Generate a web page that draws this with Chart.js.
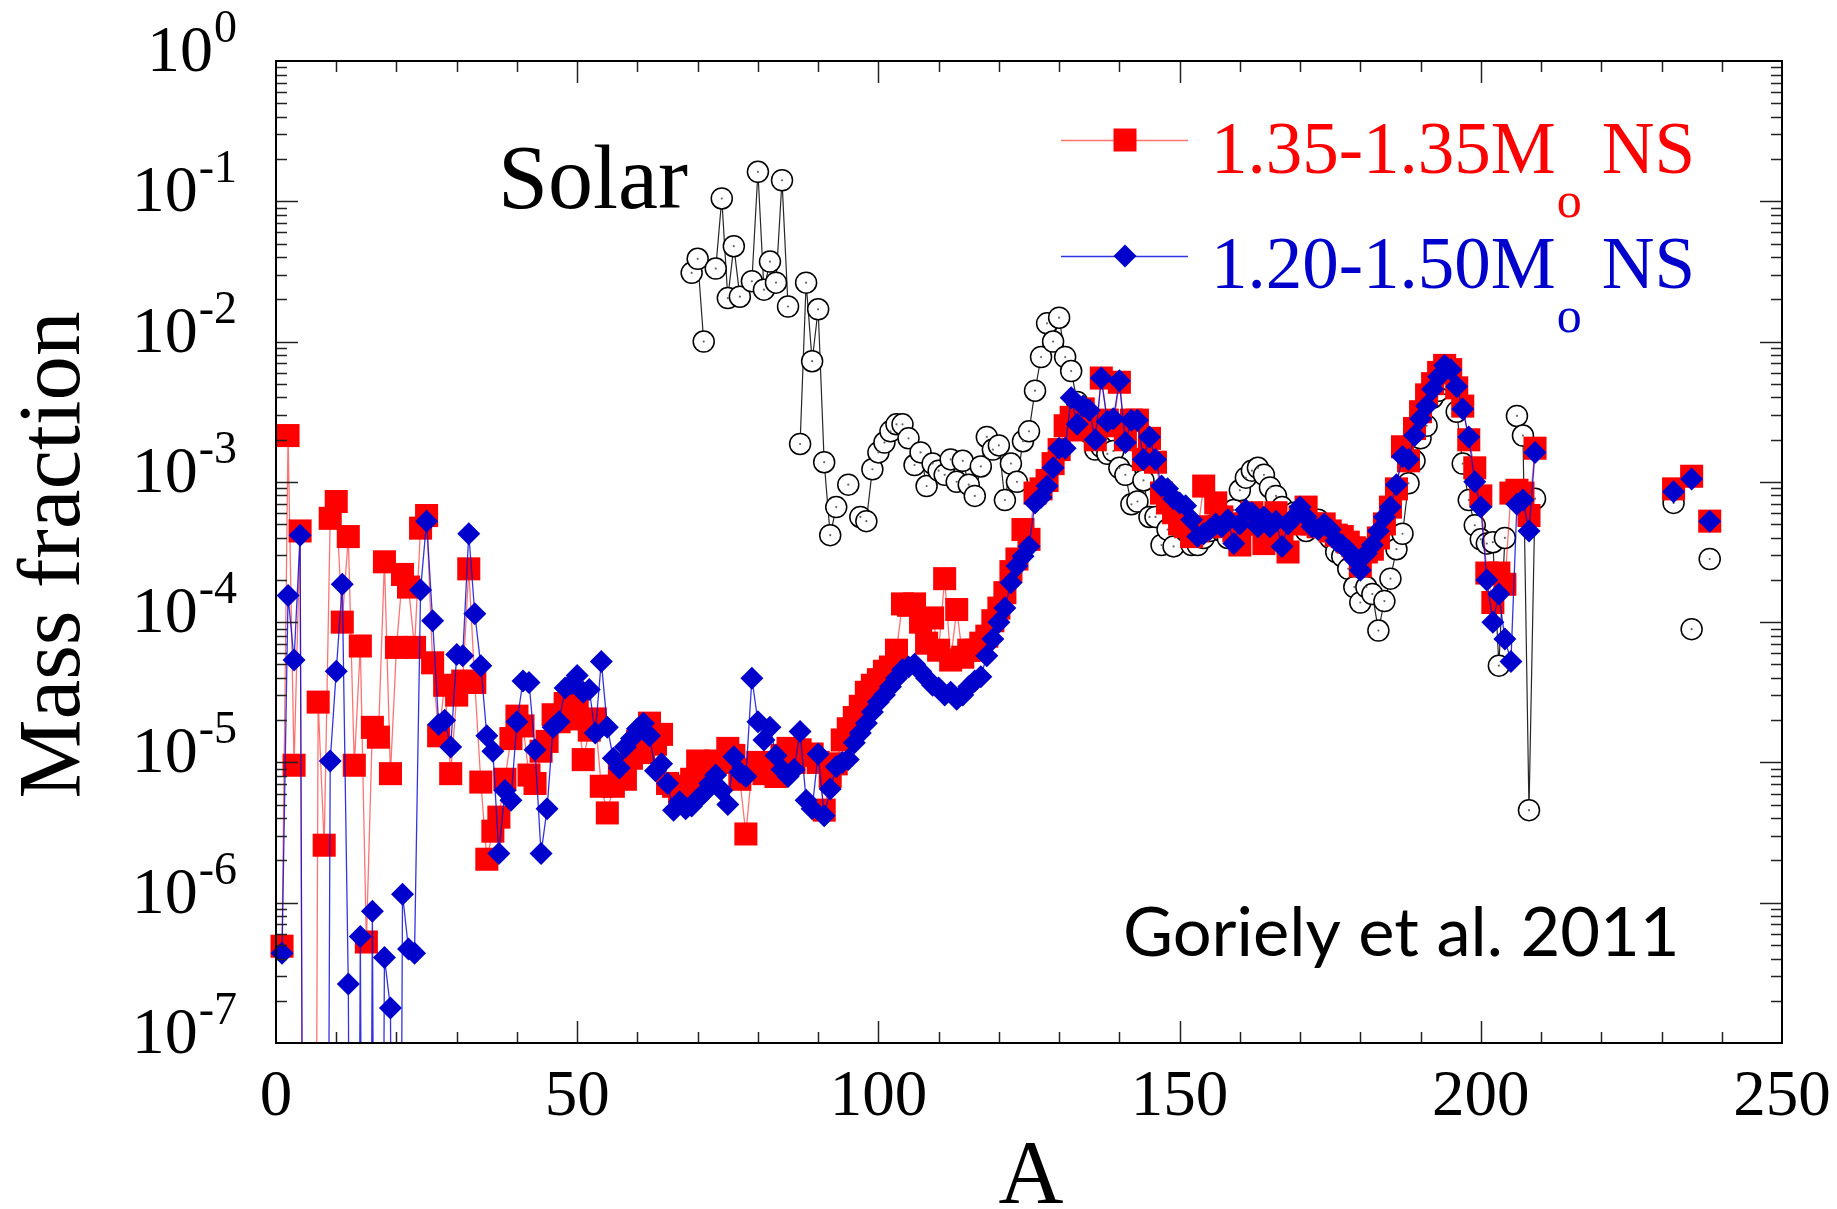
<!DOCTYPE html>
<html>
<head>
<meta charset="utf-8">
<script src="https://cdn.jsdelivr.net/npm/chart.js@4.4.1/dist/chart.umd.min.js"></script>
<style>
  html, body { margin: 0; padding: 0; background: #fff; }
  canvas { display: block; }
</style>
</head>
<body>
<canvas id="abundanceChart" width="1837" height="1209"></canvas>
<script>
// mass numbers A of the two merger runs
const nsMass = [
  1, 2, 3, 4, 5, 6, 7, 8, 9, 10, 11, 12, 13, 14, 15, 16, 17, 18, 19, 20,
  21, 22, 23, 24, 25, 26, 27, 28, 29, 30, 31, 32, 33, 34, 35, 36, 37, 38, 39, 40,
  41, 42, 43, 44, 45, 46, 47, 48, 49, 50, 51, 52, 53, 54, 55, 56, 57, 58, 59, 60,
  61, 62, 63, 64, 65, 66, 67, 68, 69, 70, 71, 72, 73, 74, 75, 76, 77, 78, 79, 80,
  81, 82, 83, 84, 85, 86, 87, 88, 89, 90, 91, 92, 93, 94, 95, 96, 97, 98, 99, 100,
  101, 102, 103, 104, 105, 106, 107, 108, 109, 110, 111, 112, 113, 114, 115, 116, 117, 118, 119, 120,
  121, 122, 123, 124, 125, 126, 127, 128, 129, 130, 131, 132, 133, 134, 135, 136, 137, 138, 139, 140,
  141, 142, 143, 144, 145, 146, 147, 148, 149, 150, 151, 152, 153, 154, 155, 156, 157, 158, 159, 160,
  161, 162, 163, 164, 165, 166, 167, 168, 169, 170, 171, 172, 173, 174, 175, 176, 177, 178, 179, 180,
  181, 182, 183, 184, 185, 186, 187, 188, 189, 190, 191, 192, 193, 194, 195, 196, 197, 198, 199, 200,
  201, 202, 203, 204, 205, 206, 207, 208, 209, 232, 235, 238
];

// log10 of the mass fraction, 1.35-1.35 Mo NS (red squares); -15 = far below the axis
const ns135Log = [
  -6.31, -2.67, -5.02, -3.35, -15, -15, -4.57, -5.59, -3.26, -3.14,
  -4.00, -3.39, -5.02, -4.17, -6.28, -4.75, -4.82, -3.57, -5.08, -4.18,
  -3.66, -3.75, -4.18, -3.33, -3.24, -4.29, -4.81, -4.45, -5.08, -4.52,
  -4.42, -3.62, -4.43, -5.14, -5.69, -5.49, -5.39, -5.12, -4.83, -4.67,
  -4.74, -5.09, -5.15, -4.92, -4.85, -4.66, -4.71, -4.58, -4.69, -4.61,
  -4.98, -4.77, -4.69, -5.17, -5.36, -5.17, -5.09, -5.12, -4.97, -4.85,
  -4.93, -4.72, -4.87, -4.80, -5.15, -5.17, -5.25, -5.22, -5.12, -4.99,
  -5.04, -5.06, -4.99, -5.00, -4.90, -4.95, -5.12, -5.51, -5.05, -5.00,
  -5.08, -5.05, -5.10, -4.95, -4.90, -5.00, -4.91, -4.95, -4.94, -5.00,
  -5.34, -5.10, -5.01, -4.84, -4.76, -4.68, -4.60, -4.50, -4.45, -4.41,
  -4.35, -4.32, -4.20, -3.87, -3.88, -3.87, -4.00, -4.15, -3.97, -4.20,
  -3.69, -4.27, -3.91, -4.25, -4.20, -4.20, -4.15, -4.10, -3.99, -3.90,
  -3.79, -3.64, -3.55, -3.34, -3.41, -3.08, -3.05, -2.99, -2.87, -2.77,
  -2.60, -2.54, -2.63, -2.48, -2.60, -2.70, -2.26, -2.56, -2.60, -2.29,
  -2.70, -2.56, -2.56, -2.84, -2.69, -2.86, -3.08, -3.15, -3.22, -3.30,
  -3.32, -3.39, -3.35, -3.03, -3.32, -3.15, -3.25, -3.30, -3.35, -3.45,
  -3.30, -3.22, -3.30, -3.44, -3.30, -3.22, -3.35, -3.50, -3.30, -3.25,
  -3.18, -3.30, -3.32, -3.30, -3.35, -3.38, -3.39, -3.43, -3.47, -3.60,
  -3.50, -3.48, -3.40, -3.30, -3.18, -3.05, -2.75, -2.85, -2.62, -2.50,
  -2.38, -2.30, -2.22, -2.17, -2.20, -2.33, -2.46, -2.70, -2.90, -3.10,
  -3.65, -3.86, -3.65, -3.73, -3.08, -3.06, -3.08, -3.24, -2.76,
  -3.05, -2.96, -3.28
];

// log10 of the mass fraction, 1.20-1.50 Mo NS (blue diamonds)
const ns120Log = [
  -6.36, -3.81, -4.27, -3.38, -15, -15, -15, -15, -4.99, -4.35,
  -3.73, -6.58, -15, -6.24, -15, -6.06, -15, -6.39, -6.75, -15,
  -5.94, -6.33, -6.36, -3.77, -3.28, -3.99, -4.73, -4.70, -4.89, -4.23,
  -4.24, -3.37, -3.94, -4.31, -4.81, -4.92, -5.65, -5.20, -5.27, -4.71,
  -4.42, -4.43, -4.91, -5.65, -5.33, -4.75, -4.71, -4.47, -4.44, -4.38,
  -4.50, -4.48, -4.79, -4.28, -4.75, -4.97, -5.04, -4.89, -4.83, -4.76,
  -4.72, -4.81, -5.06, -5.01, -5.15, -5.34, -5.28, -5.33, -5.31, -5.26,
  -5.22, -5.15, -5.09, -5.20, -5.30, -4.96, -5.07, -5.10, -4.40, -4.71,
  -4.84, -4.75, -4.95, -5.05, -5.10, -5.05, -4.78, -5.27, -5.33, -4.94,
  -5.38, -5.19, -5.03, -5.00, -4.98, -4.86, -4.79, -4.72, -4.64, -4.57,
  -4.52, -4.46, -4.40, -4.34, -4.32, -4.30, -4.35, -4.40, -4.45, -4.47,
  -4.52, -4.50, -4.55, -4.52, -4.46, -4.42, -4.39, -4.24, -4.12, -4.00,
  -3.90, -3.72, -3.60, -3.53, -3.46, -3.15, -3.11, -3.03, -2.90, -2.76,
  -2.76, -2.40, -2.59, -2.46, -2.49, -2.70, -2.26, -2.57, -2.55, -2.28,
  -2.72, -2.56, -2.56, -2.84, -2.68, -2.84, -3.03, -3.05, -3.12, -3.15,
  -3.17, -3.27, -3.39, -3.37, -3.34, -3.30, -3.32, -3.27, -3.44, -3.30,
  -3.20, -3.22, -3.32, -3.25, -3.32, -3.28, -3.46, -3.30, -3.25, -3.18,
  -3.25, -3.32, -3.34, -3.30, -3.34, -3.42, -3.45, -3.49, -3.55, -3.63,
  -3.51, -3.45, -3.35, -3.25, -3.18, -3.02, -2.82, -2.84, -2.67, -2.55,
  -2.46, -2.34, -2.25, -2.17, -2.20, -2.32, -2.48, -2.68, -3.00, -3.18,
  -3.70, -4.00, -3.80, -4.12, -4.28, -3.16, -3.13, -3.35, -2.79,
  -3.07, -2.98, -3.28
];

// solar r-process distribution (open circles)
const solarMass = [
  69, 70, 71, 73, 74, 75, 76, 77, 79, 80, 81, 82, 83, 84, 85, 87, 88, 89, 90, 91,
  92, 93, 95, 97, 98, 99, 100, 101, 102, 103, 104, 105, 106, 107, 108, 109, 110, 111, 112, 113,
  114, 115, 116, 117, 118, 119, 120, 121, 122, 123, 124, 125, 126, 127, 128, 129, 130, 131, 132, 133,
  134, 135, 136, 137, 138, 139, 140, 141, 142, 143, 144, 145, 146, 147, 148, 149, 150, 151, 152, 153,
  154, 155, 156, 157, 158, 159, 160, 161, 162, 163, 164, 165, 166, 167, 168, 169, 170, 171, 172, 173,
  174, 175, 176, 177, 178, 179, 180, 181, 182, 183, 184, 185, 186, 187, 188, 189, 190, 191, 192, 193,
  194, 195, 196, 197, 198, 199, 200, 201, 202, 203, 204, 206, 207, 208, 209, 232, 235, 238
];
const solarLog = [
  -1.51, -1.41, -2.00, -1.48, -0.98, -1.69, -1.32, -1.68, -1.57, -0.79, -1.63, -1.43, -1.58, -0.85, -1.75, -2.73, -1.58, -2.14, -1.77, -2.86,
  -3.38, -3.18, -3.02, -3.25, -3.28, -2.91, -2.79, -2.72, -2.64, -2.59, -2.59, -2.69, -2.88, -2.79, -3.03, -2.87, -2.92, -2.95, -2.84, -3.00,
  -2.85, -3.02, -3.10, -2.89, -2.68, -2.77, -2.74, -3.13, -2.87, -3.00, -2.71, -2.64, -2.35, -2.11, -1.87, -2.00, -1.83, -2.11, -2.21, -2.43,
  -2.55, -2.65, -2.77, -2.75, -2.80, -2.78, -2.90, -2.95, -3.16, -3.14, -2.99, -3.25, -3.25, -3.45, -3.34, -3.46, -3.27, -3.35, -3.45, -3.45,
  -3.40, -3.35, -3.30, -3.35, -3.40, -3.20, -3.06, -2.97, -2.92, -2.90, -2.95, -3.04, -3.10, -3.18, -3.25, -3.22, -3.30, -3.35, -3.30, -3.27,
  -3.30, -3.40, -3.50, -3.53, -3.62, -3.75, -3.86, -3.75, -3.80, -4.06, -3.85, -3.69, -3.48, -3.37, -3.01, -2.85, -2.69, -2.60, -2.40, -2.35,
  -2.30, -2.28, -2.50, -2.87, -3.13, -3.31, -3.41, -3.44, -3.43, -4.31, -3.40, -2.53, -2.67, -5.34, -3.12, -3.15, -4.05, -3.55
];

const xTickLabels = [0, 50, 100, 150, 200, 250];
const yDecades = [0, -1, -2, -3, -4, -5, -6, -7];

const redColor = '#ff0000';
const blueColor = '#0000cc';

function toPoints(masses, logs) {
  return masses.map((a, i) => ({ x: a, y: Math.pow(10, logs[i]) }));
}

const serif = '"Liberation Serif", "Times New Roman", serif';

// frame, inward ticks, labels and annotations
const framePlugin = {
  id: 'frame',
  afterDraw(chart) {
    const c = chart.ctx;
    const area = chart.chartArea;
    const xs = chart.scales.x;
    const ys = chart.scales.y;
    c.save();

    // ticks on all four sides
    c.strokeStyle = '#222';
    c.lineWidth = 1.5;
    c.beginPath();
    for (let v = 10; v < 250; v += 10) {
      const px = Math.round(xs.getPixelForValue(v)) + 0.5;
      const len = v % 50 === 0 ? 22 : 11;
      c.moveTo(px, area.bottom); c.lineTo(px, area.bottom - len);
      c.moveTo(px, area.top); c.lineTo(px, area.top + len);
    }
    for (let e = -7; e < 0; e++) {
      for (let k = 1; k <= 9; k++) {
        if (e === -7 && k === 1) continue;
        const py = Math.round(ys.getPixelForValue(k * Math.pow(10, e))) + 0.5;
        const len = k === 1 ? 22 : 11;
        c.moveTo(area.left, py); c.lineTo(area.left + len, py);
        c.moveTo(area.right, py); c.lineTo(area.right - len, py);
      }
    }
    c.stroke();

    c.lineWidth = 2;
    c.strokeStyle = '#000';
    c.strokeRect(area.left, area.top, area.right - area.left, area.bottom - area.top);

    // x tick labels
    c.fillStyle = '#000';
    c.font = '65px ' + serif;
    c.textAlign = 'center';
    c.textBaseline = 'alphabetic';
    xTickLabels.forEach(v => {
      c.fillText(String(v), xs.getPixelForValue(v), 1115);
    });

    // y tick labels 10^n
    yDecades.forEach(e => {
      const py = ys.getPixelForValue(Math.pow(10, e));
      const sup = String(e);
      c.font = '46px ' + serif;
      c.textAlign = 'right';
      const supW = c.measureText(sup).width;
      c.fillText(sup, 237, py - 19);
      c.font = '66px ' + serif;
      c.fillText('10', 237 - supW - 1, py + 10);
    });

    // axis titles
    c.font = '90px ' + serif;
    c.textAlign = 'center';
    c.fillText('A', (area.left + area.right) / 2 + 2, 1203);
    c.save();
    c.translate(79, 555);
    c.rotate(-Math.PI / 2);
    c.font = '89px ' + serif;
    c.fillText('Mass fraction', 0, 0);
    c.restore();

    // "Solar" label
    c.textAlign = 'left';
    c.font = '90px ' + serif;
    c.fillText('Solar', 498, 208);

    // reference
    c.font = '76px Lato, "Open Sans", sans-serif';
    const refW = c.measureText('Goriely et al. 2011').width;
    const refSize = 76 * 557 / refW;
    c.font = refSize.toFixed(1) + 'px Lato, "Open Sans", sans-serif';
    c.fillText('Goriely et al. 2011', 1123, 956);

    // legend
    const entries = [
      { y: 140, base: 173, label: '1.35-1.35M', color: redColor, line: 'rgba(255,0,0,0.55)', marker: 'rect' },
      { y: 256, base: 288, label: '1.20-1.50M', color: blueColor, line: 'rgba(0,0,220,0.8)', marker: 'diamond' }
    ];
    entries.forEach(en => {
      c.strokeStyle = en.line;
      c.lineWidth = 1.5;
      c.beginPath();
      c.moveTo(1061, en.y + 0.5);
      c.lineTo(1188, en.y + 0.5);
      c.stroke();
      c.fillStyle = en.color;
      c.beginPath();
      if (en.marker === 'rect') {
        c.rect(1125 - 11.5, en.y - 11.5, 23, 23);
      } else {
        c.moveTo(1125 - 11.5, en.y);
        c.lineTo(1125, en.y - 11.5);
        c.lineTo(1125 + 11.5, en.y);
        c.lineTo(1125, en.y + 11.5);
        c.closePath();
      }
      c.fill();
      c.font = '73px ' + serif;
      c.textAlign = 'left';
      c.fillText(en.label, 1211, en.base);
      const mainW = c.measureText(en.label).width;
      c.font = '50px ' + serif;
      c.fillText('o', 1211 + mainW + 1, en.base + 44);
      c.font = '73px ' + serif;
      c.fillText('NS', 1211 + mainW + 46, en.base);
    });

    c.restore();
  }
};

const lineClip = { left: 10, right: 0, top: 0, bottom: 0 };

new Chart(document.getElementById('abundanceChart'), {
  type: 'scatter',
  data: {
    datasets: [
      {
        label: '1.20-1.50Mo NS',
        data: toPoints(nsMass, ns120Log),
        showLine: true,
        spanGaps: 1.5,
        borderColor: 'rgba(0,0,220,0.8)',
        borderWidth: 1.3,
        pointStyle: 'rectRot',
        pointRadius: 11.5,
        pointBackgroundColor: blueColor,
        pointBorderWidth: 0,
        clip: lineClip,
        order: 0
      },
      {
        label: '1.35-1.35Mo NS',
        data: toPoints(nsMass, ns135Log),
        showLine: true,
        spanGaps: 1.5,
        borderColor: 'rgba(255,0,0,0.55)',
        borderWidth: 1.3,
        pointStyle: 'rect',
        pointRadius: 16.3,
        pointBackgroundColor: redColor,
        pointBorderWidth: 0,
        clip: lineClip,
        order: 1
      },
      {
        label: 'Solar centres',
        data: toPoints(solarMass, solarLog),
        showLine: false,
        pointStyle: 'circle',
        pointRadius: 1.1,
        pointBackgroundColor: '#666',
        pointBorderWidth: 0,
        order: 2
      },
      {
        label: 'Solar',
        data: toPoints(solarMass, solarLog),
        showLine: true,
        spanGaps: 1.5,
        borderColor: 'rgba(0,0,0,0.85)',
        borderWidth: 1.2,
        pointStyle: 'circle',
        pointRadius: 10.5,
        pointBackgroundColor: '#fff',
        pointBorderColor: '#000',
        pointBorderWidth: 1.5,
        order: 3
      }
    ]
  },
  options: {
    responsive: false,
    animation: false,
    devicePixelRatio: 1,
    layout: { padding: { left: 276, right: 55, top: 61, bottom: 166 } },
    elements: { line: { tension: 0 } },
    plugins: {
      legend: { display: false },
      tooltip: { enabled: false }
    },
    scales: {
      x: { type: 'linear', min: 0, max: 250, display: false },
      y: { type: 'logarithmic', min: 1e-7, max: 1, display: false }
    }
  },
  plugins: [framePlugin]
});
</script>
</body>
</html>
